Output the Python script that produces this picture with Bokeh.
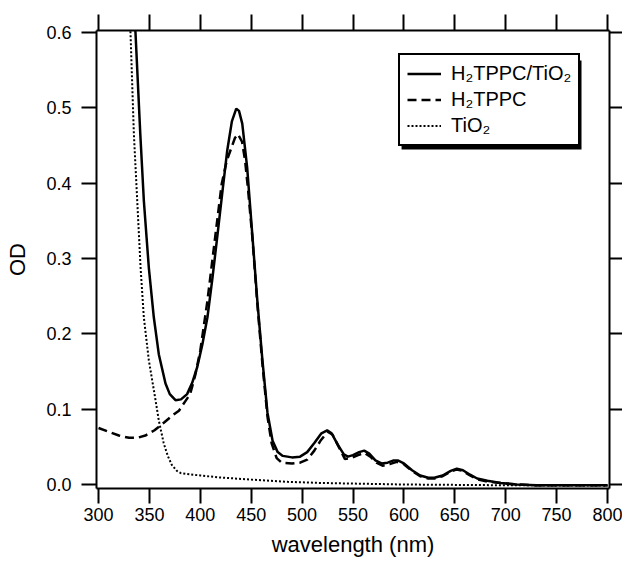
from bokeh.plotting import figure
from bokeh.models import (Range1d, LinearAxis, FixedTicker, Legend, LegendItem,
                          BoxAnnotation, ColumnDataSource)
from bokeh.embed import file_html
from bokeh.resources import INLINE

# H2TPPC/TiO2 (solid)
wl_a = [334, 336.3, 341, 344.5, 349.4, 354.3, 359.2, 365.8, 370, 375.6, 381, 387, 392, 397,
        402, 407, 412, 417, 422, 426.4, 431, 435.3, 438, 441.2, 446, 451, 456, 461, 466,
        471, 476, 481, 490, 498, 505, 512, 519, 524.6, 529, 535, 541, 545, 550, 556, 561,
        566, 572, 578, 584, 590, 594, 600, 608, 616, 624, 630, 638, 646, 652, 658, 665,
        672, 682, 695, 711, 730, 760, 800]
od_a = [0.64, 0.600, 0.466, 0.377, 0.288, 0.222, 0.173, 0.134, 0.120, 0.112, 0.113, 0.120,
        0.135, 0.156, 0.186, 0.222, 0.275, 0.333, 0.392, 0.443, 0.482, 0.499, 0.496, 0.479,
        0.421, 0.333, 0.244, 0.165, 0.095, 0.058, 0.043, 0.038, 0.036, 0.037, 0.043, 0.055,
        0.068, 0.072, 0.068, 0.053, 0.040, 0.037, 0.039, 0.043, 0.045, 0.041, 0.032, 0.028,
        0.029, 0.032, 0.032, 0.028, 0.019, 0.012, 0.009, 0.009, 0.012, 0.018, 0.021, 0.019,
        0.013, 0.008, 0.005, 0.002, 0.0, -0.001, -0.001, -0.001]

# H2TPPC (dashed)
wl_b = [300, 310, 320, 330, 338, 346, 355, 365, 373, 379, 385, 390, 395, 400, 407, 415,
        421, 426, 430, 434, 437, 441, 444, 447, 451, 456, 461, 466, 470, 475, 480, 490,
        498, 505, 512, 518, 525, 530, 536, 542, 548, 555, 561, 567, 573, 579, 586, 593,
        600, 608, 616, 624, 630, 638, 646, 652, 658, 665, 672, 682, 695, 711, 730, 800]
od_b = [0.075, 0.070, 0.065, 0.062, 0.062, 0.065, 0.072, 0.083, 0.092, 0.098, 0.110, 0.120,
        0.145, 0.178, 0.244, 0.333, 0.399, 0.430, 0.445, 0.460, 0.465, 0.455, 0.430, 0.390,
        0.330, 0.240, 0.160, 0.090, 0.055, 0.035, 0.029, 0.028, 0.029, 0.033, 0.045, 0.058,
        0.070, 0.066, 0.050, 0.034, 0.035, 0.039, 0.042, 0.037, 0.029, 0.025, 0.027, 0.030,
        0.027, 0.018, 0.011, 0.008, 0.008, 0.011, 0.017, 0.020, 0.018, 0.012, 0.007, 0.004,
        0.002, 0.0, -0.001, -0.001]

# TiO2 (dotted)
wl_c = [329, 331.4, 334.7, 338, 341.3, 344.5, 349.4, 356, 359.2, 364, 368, 372, 377, 381,
        390, 400, 418, 450, 486, 520, 560, 600, 650, 700, 800]
od_c = [0.66, 0.600, 0.466, 0.377, 0.288, 0.222, 0.165, 0.112, 0.085, 0.055, 0.038, 0.026,
        0.018, 0.015, 0.0135, 0.012, 0.0095, 0.0065, 0.0035, 0.002, 0.001, 0.0, -0.0005,
        -0.001, -0.0015]

x_ticks = [300, 350, 400, 450, 500, 550, 600, 650, 700, 750, 800]
y_ticks = [0.0, 0.1, 0.2, 0.3, 0.4, 0.5, 0.6]
labels = ["H\u2082TPPC/TiO\u2082", "H\u2082TPPC", "TiO\u2082"]

FONT = "Liberation Sans"

p = figure(width=622, height=563, output_backend="svg", toolbar_location=None,
           x_range=Range1d(298.0, 802.0), y_range=Range1d(-0.0053, 0.6027),
           x_axis_location=None, y_axis_location=None,
           min_border_left=96, min_border_right=13, min_border_top=30, min_border_bottom=75)
p.outline_line_color = None
p.xgrid.visible = False
p.ygrid.visible = False
p.background_fill_color = "white"
p.border_fill_color = "white"


def style_axis(ax, labels_on, out_len, ticks):
    ax.axis_line_width = 2
    ax.axis_line_color = "black"
    ax.major_tick_line_width = 2
    ax.major_tick_line_color = "black"
    ax.major_tick_out = out_len
    ax.major_tick_in = 0
    ax.minor_tick_line_color = None
    if labels_on:
        ax.major_label_text_font = FONT
        ax.major_label_text_font_size = "18px"
        ax.major_label_text_color = "black"
        ax.axis_label_text_font = FONT
        ax.axis_label_text_font_size = "22px"
        ax.axis_label_text_font_style = "normal"
        ax.axis_label_text_color = "black"
    else:
        ax.major_label_overrides = {t: "" for t in ticks}
        ax.major_label_text_font_size = "0px"
        ax.major_label_standoff = 0


xb = LinearAxis(ticker=FixedTicker(ticks=x_ticks), axis_label="wavelength (nm)")
style_axis(xb, True, 15, x_ticks)
xb.major_label_standoff = 4
xb.axis_label_standoff = 8
p.add_layout(xb, "below")

yl = LinearAxis(ticker=FixedTicker(ticks=y_ticks), axis_label="OD")
style_axis(yl, True, 15, y_ticks)
yl.major_label_standoff = 10
yl.axis_label_standoff = 13
yl.major_label_overrides = {t: f"{t:.1f}" for t in y_ticks}
p.add_layout(yl, "left")

xt = LinearAxis(ticker=FixedTicker(ticks=x_ticks))
style_axis(xt, False, 16, x_ticks)
p.add_layout(xt, "above")

yr = LinearAxis(ticker=FixedTicker(ticks=y_ticks))
style_axis(yr, False, 13, y_ticks)
p.add_layout(yr, "right")

src_a = ColumnDataSource(dict(x=wl_a, y=od_a))
src_b = ColumnDataSource(dict(x=wl_b, y=od_b))
src_c = ColumnDataSource(dict(x=wl_c, y=od_c))

rc = p.line("x", "y", source=src_c, line_color="black", line_width=2, line_dash="2 2")
rb = p.line("x", "y", source=src_b, line_color="black", line_width=2.5, line_dash="9 5")
ra = p.line("x", "y", source=src_a, line_color="black", line_width=2.5)

# legend drop shadow
shadow = BoxAnnotation(left=597.7, right=774.5, top=0.5629, bottom=0.4447,
                       fill_color="black", fill_alpha=1.0, line_color=None)
p.add_layout(shadow)

legend = Legend(items=[LegendItem(label=labels[0], renderers=[ra]),
                       LegendItem(label=labels[1], renderers=[rb]),
                       LegendItem(label=labels[2], renderers=[rc])],
                location=(302, 342), orientation="vertical",
                border_line_color="black", border_line_width=2, border_line_alpha=1.0,
                background_fill_color="white", background_fill_alpha=1.0,
                label_text_font=FONT, label_text_font_size="20px",
                label_text_color="black",
                glyph_width=34, glyph_height=23, label_height=23,
                label_standoff=10, spacing=3, padding=7, margin=0)
p.add_layout(legend, "center")

open("out.html", "w").write(file_html(p, INLINE))
